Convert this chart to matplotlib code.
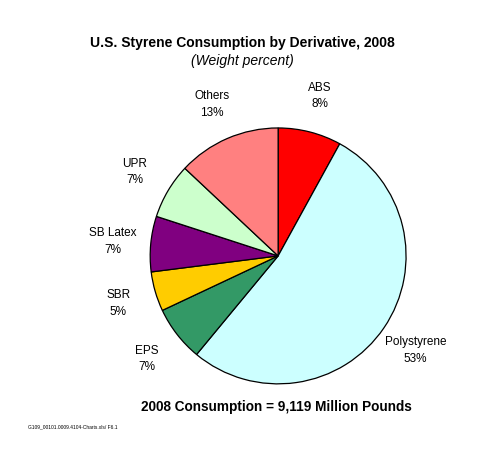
import matplotlib
matplotlib.use("Agg")
import matplotlib.pyplot as plt

# data
derivatives = ["ABS", "Polystyrene", "EPS", "SBR", "SB Latex", "UPR", "Others"]
shares = [8, 53, 7, 5, 7, 7, 13]
slice_colors = ["#FF0000", "#CCFFFF", "#339966", "#FFCC00", "#800080", "#CCFFCC", "#FF8080"]

title = "U.S. Styrene Consumption by Derivative, 2008"
subtitle = "(Weight percent)"
total_note = "2008 Consumption = 9,119 Million Pounds"
source_note = "G109_00101.0009.4104-Charts.xls/ F6.1"

plt.rcParams["font.family"] = ["Liberation Sans", "DejaVu Sans"]

fig = plt.figure(figsize=(4.94, 4.60), dpi=100)
fig.patch.set_facecolor("white")

# square axes holding the pie
ax = fig.add_axes([0.304, 0.163, 0.518, 0.557])
labels = [f"{name}\n{val}%" for name, val in zip(derivatives, shares)]
wedges, texts = ax.pie(
    shares,
    labels=labels,
    colors=slice_colors,
    startangle=90,
    counterclock=False,
    labeldistance=1.3,
    wedgeprops=dict(edgecolor="black", linewidth=0.9),
    textprops=dict(ha="center", va="center", fontsize=8.5, linespacing=1.5),
)
ax.set_aspect("equal")
ax.set_xlim(-1, 1)
ax.set_ylim(-1, 1)

fig.text(0.49, 0.907, title, ha="center", va="center", fontsize=10, fontweight="bold")
fig.text(0.49, 0.868, subtitle, ha="center", va="center", fontsize=10, style="italic")
fig.text(0.559, 0.115, total_note, ha="center", va="center", fontsize=9.8, fontweight="bold")
fig.text(0.057, 0.072, source_note, ha="left", va="center", fontsize=3.5)

fig.savefig("out.png", dpi=100)
